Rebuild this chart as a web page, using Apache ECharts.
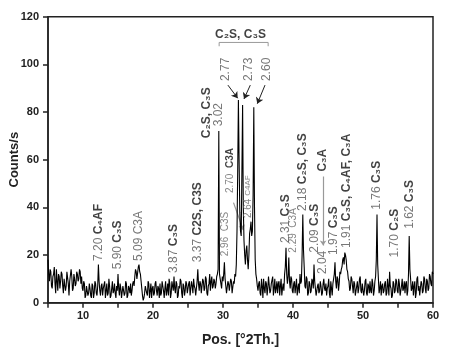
<!DOCTYPE html>
<html>
<head>
<meta charset="utf-8">
<script src="https://cdn.jsdelivr.net/npm/echarts@6/dist/echarts.min.js"></script>
<style>
html,body{margin:0;padding:0;background:#fff;}
#chart{width:450px;height:363px;}
</style>
</head>
<body>
<div id="chart"></div>
<script>
// XRD pattern, counts every 0.1 deg (5.0 .. 60.0), one row = 2 deg
var posStart = 5, posStep = 0.1;
var counts = [
	18, 12, 9, 14, 13, 7, 6, 11, 12, 15, 8, 4, 14, 9, 5, 12, 11, 6, 9, 13,
	12, 7, 4, 10, 10, 5, 7, 13, 13, 8, 3, 9, 9, 14, 11, 5, 6, 12, 10, 7,
	8, 13, 12, 9, 10, 14, 13, 8, 11, 6, 5, 9, 8, 2, 3, 7, 7, 3, 4, 8,
	6, 3, 2, 8, 7, 2, 4, 9, 8, 4, 3, 7, 16, 9, 5, 3, 7, 8, 3, 6,
	6, 9, 2, 5, 8, 3, 4, 10, 7, 2, 3, 6, 9, 4, 5, 8, 4, 2, 7, 5,
	12, 6, 3, 8, 6, 2, 2, 7, 7, 3, 4, 9, 8, 2, 3, 7, 6, 4, 8, 3,
	5, 8, 9, 7, 11, 14, 13, 10, 10, 15, 16, 13, 12, 9, 6, 3, 1, 2, 4, 7,
	7, 4, 3, 9, 8, 2, 5, 8, 2, 6, 7, 3, 4, 8, 9, 5, 3, 7, 6, 2,
	8, 3, 4, 9, 7, 5, 2, 6, 9, 3, 5, 8, 3, 10, 8, 2, 4, 9, 7, 5,
	11, 6, 4, 9, 8, 2, 3, 7, 6, 10, 9, 4, 2, 8, 7, 3, 5, 9, 8, 4,
	4, 8, 9, 3, 3, 9, 7, 4, 10, 7, 6, 3, 3, 9, 14, 8, 5, 9, 8, 4,
	4, 10, 9, 5, 6, 11, 10, 4, 3, 7, 8, 12, 5, 9, 11, 6, 7, 10, 9, 6,
	8, 11, 12, 14, 72, 12, 10, 8, 6, 11, 9, 12, 17, 10, 7, 4, 4, 9, 8, 5,
	5, 10, 9, 4, 4, 9, 8, 12, 11, 16, 30, 55, 85, 60, 38, 30, 28, 55, 83, 40,
	26, 20, 16, 22, 24, 18, 14, 20, 29, 31, 34, 28, 30, 45, 82, 40, 18, 12, 10, 7,
	5, 8, 9, 4, 3, 10, 7, 2, 10, 6, 4, 9, 8, 3, 6, 11, 11, 4, 5, 8,
	8, 11, 3, 6, 10, 4, 6, 9, 4, 8, 9, 3, 7, 10, 3, 6, 8, 5, 12, 15,
	23, 12, 8, 11, 19, 9, 6, 11, 10, 5, 4, 8, 9, 4, 7, 10, 3, 6, 8, 4,
	12, 8, 9, 20, 37, 22, 15, 7, 6, 11, 10, 3, 4, 9, 8, 4, 5, 10, 9, 6,
	16, 9, 6, 3, 3, 7, 8, 4, 5, 9, 7, 3, 4, 8, 10, 6, 5, 8, 3, 6,
	7, 10, 4, 2, 9, 6, 3, 8, 8, 12, 17, 9, 6, 11, 10, 5, 8, 13, 12, 14,
	15, 18, 19, 16, 21, 20, 18, 14, 13, 10, 9, 5, 6, 11, 10, 7, 4, 9, 8, 3,
	3, 7, 9, 4, 6, 10, 11, 5, 4, 8, 8, 3, 5, 9, 10, 4, 3, 8, 7, 4,
	9, 5, 4, 10, 8, 3, 5, 9, 11, 18, 37, 16, 10, 4, 6, 9, 3, 7, 8, 4,
	5, 8, 9, 3, 4, 10, 7, 3, 13, 7, 6, 2, 3, 9, 8, 4, 5, 10, 9, 5,
	4, 10, 8, 3, 3, 7, 10, 5, 6, 9, 4, 8, 9, 3, 5, 12, 28, 14, 10, 5,
	6, 9, 3, 7, 9, 2, 4, 10, 11, 5, 7, 3, 3, 9, 8, 4, 5, 11, 10, 6,
	4, 10, 9, 5, 6, 12, 11, 8, 7, 13, 12
];

// peak labels : [2theta, counts where the text starts, text]
var peakLabels = [
	[12.2, 17.5, '{n|7.20 }{b|C₄AF}'],
	[15.0, 14, '{n|5.90 }{b|C₃S}'],
	[18.0, 17.5, '{n|5.09 C3A}'],
	[23.0, 12.5, '{n|3.87 }{b|C₃S}'],
	[26.4, 17, '{n|3.37 }{b|C2S, C3S}'],
	[27.6, 69, '{b|C₂S, C₃S}'],
	[29.4, 74, '{n|3.02}'],
	[30.3, 19.5, '{s|2.96  C3S}'],
	[31.1, 46, '{s|2.70  }{sb|C3A}'],
	[33.6, 35.5, '{s|2.64 }{t|C4AF}'],
	[30.4, 93, '{n|2.77}'],
	[33.6, 93, '{n|2.73}'],
	[36.3, 93, '{n|2.60}'],
	[38.9, 25, '{n|2.31 }{b|C₃S}'],
	[40.0, 21, '{s|2.29  C3A}'],
	[41.4, 38.5, '{n|2.18 }{b|C₂S, C₃S}'],
	[43.1, 21, '{n|2.09 }{b|C₃S}'],
	[44.3, 12, '{n|2.04}'],
	[44.3, 55, '{b|C₃A}'],
	[45.8, 20, '{n|1.97 }{b|C₃S}'],
	[47.7, 23, '{n|1.91 }{b|C₃S, C₄AF, C₃A}'],
	[52.0, 39, '{n|1.76 }{b|C₃S}'],
	[54.5, 19, '{n|1.70 }{b|C₂S}'],
	[56.7, 31, '{n|1.62 }{b|C₃S}']
];

// group label over the three strong peaks
var groupLabel = [32.5, 112.5, 'C₂S, C₃S'];
var bracket = [[29.45, 107.6], [29.45, 109.2], [36.45, 109.2], [36.45, 107.6]];

// arrows [from, to]
var arrows = [
	[[30.7, 91.3], [32.1, 85.8]],
	[[33.9, 91.3], [33.0, 85.5]],
	[[36.0, 91.3], [34.9, 83.5]]
];
var greyArrows = [
	[[31.5, 42], [32.9, 30.5]],
	[[44.3, 53], [44.3, 24]]
];

var FONT = 'Liberation Sans, Arial, sans-serif';
var AX = '#222';

var chart = echarts.init(document.getElementById('chart'), null, {renderer: 'canvas'});

var lineData = counts.map(function(c, i){
	return [+(posStart + i * posStep).toFixed(1), c];
});

var labelRich = {
	n: {color: '#555', fontSize: 12, fontFamily: FONT},
	b: {color: '#111', fontSize: 12, fontWeight: 'bold', fontFamily: FONT},
	s: {color: '#666', fontSize: 10, fontFamily: FONT},
	sb: {color: '#111', fontSize: 10, fontWeight: 'bold', fontFamily: FONT},
	t: {color: '#666', fontSize: 8, fontFamily: FONT}
};

chart.setOption({
	animation: false,
	backgroundColor: '#fff',
	textStyle: {fontFamily: FONT},
	grid: {
		left: 48, right: 17, top: 16.7, bottom: 60.3,
		show: true, borderColor: AX, borderWidth: 1.5,
		outerBoundsMode: 'none'
	},
	xAxis: {
		type: 'value', min: 5, max: 60, interval: 5,
		name: 'Pos. [°2Th.]', nameLocation: 'middle', nameGap: 30,
		nameMoveOverlap: false,
		nameTextStyle: {fontSize: 14, fontWeight: 'bold', color: AX},
		axisLine: {lineStyle: {color: AX, width: 1.5}},
		axisTick: {length: 5, lineStyle: {color: AX, width: 1.5}},
		axisLabel: {
			fontSize: 11, fontWeight: 'bold', color: AX, margin: 8,
			formatter: function(v){ return v % 10 === 0 ? v : ''; }
		},
		splitLine: {show: false}
	},
	yAxis: {
		type: 'value', min: 0, max: 120, interval: 20,
		name: 'Counts/s', nameLocation: 'middle', nameGap: 27,
		nameMoveOverlap: false,
		nameTextStyle: {fontSize: 13, fontWeight: 'bold', color: AX},
		axisLine: {show: true, lineStyle: {color: AX, width: 1.5}},
		axisTick: {show: true, length: 5, lineStyle: {color: AX, width: 1.5}},
		axisLabel: {fontSize: 11, fontWeight: 'bold', color: AX, margin: 9},
		splitLine: {show: false}
	},
	series: [
		{
			type: 'line',
			data: lineData,
			showSymbol: false,
			sampling: null,
			lineStyle: {color: '#000', width: 1.1},
			silent: true,
			z: 2
		},
		{
			type: 'line',
			data: bracket,
			showSymbol: false,
			lineStyle: {color: '#999', width: 1},
			silent: true
		},
		{
			type: 'lines',
			coordinateSystem: 'cartesian2d',
			data: arrows.map(function(a){ return {coords: a}; }),
			symbol: ['none', 'arrow'],
			symbolSize: 6,
			lineStyle: {color: '#222', width: 1, opacity: 1},
			silent: true
		},
		{
			type: 'lines',
			coordinateSystem: 'cartesian2d',
			data: greyArrows.map(function(a){ return {coords: a}; }),
			symbol: ['none', 'arrow'],
			symbolSize: 5,
			lineStyle: {color: '#999', width: 1.2, opacity: 1},
			silent: true
		},
		{
			type: 'scatter',
			symbolSize: 0,
			silent: true,
			z: 5,
			data: peakLabels.map(function(l){
				return {
					value: [l[0], l[1]],
					label: {formatter: l[2]}
				};
			}),
			label: {
				show: true,
				position: [0, 0],
				rotate: 90,
				align: 'left',
				verticalAlign: 'middle',
				rich: labelRich
			}
		},
		{
			type: 'scatter',
			symbolSize: 0,
			silent: true,
			z: 5,
			data: [{value: [groupLabel[0], groupLabel[1]]}],
			label: {
				show: true,
				position: [0, 0],
				align: 'center',
				verticalAlign: 'middle',
				formatter: groupLabel[2],
				color: '#111', fontSize: 12, fontWeight: 'bold', fontFamily: FONT
			}
		}
	]
});
</script>
</body>
</html>
